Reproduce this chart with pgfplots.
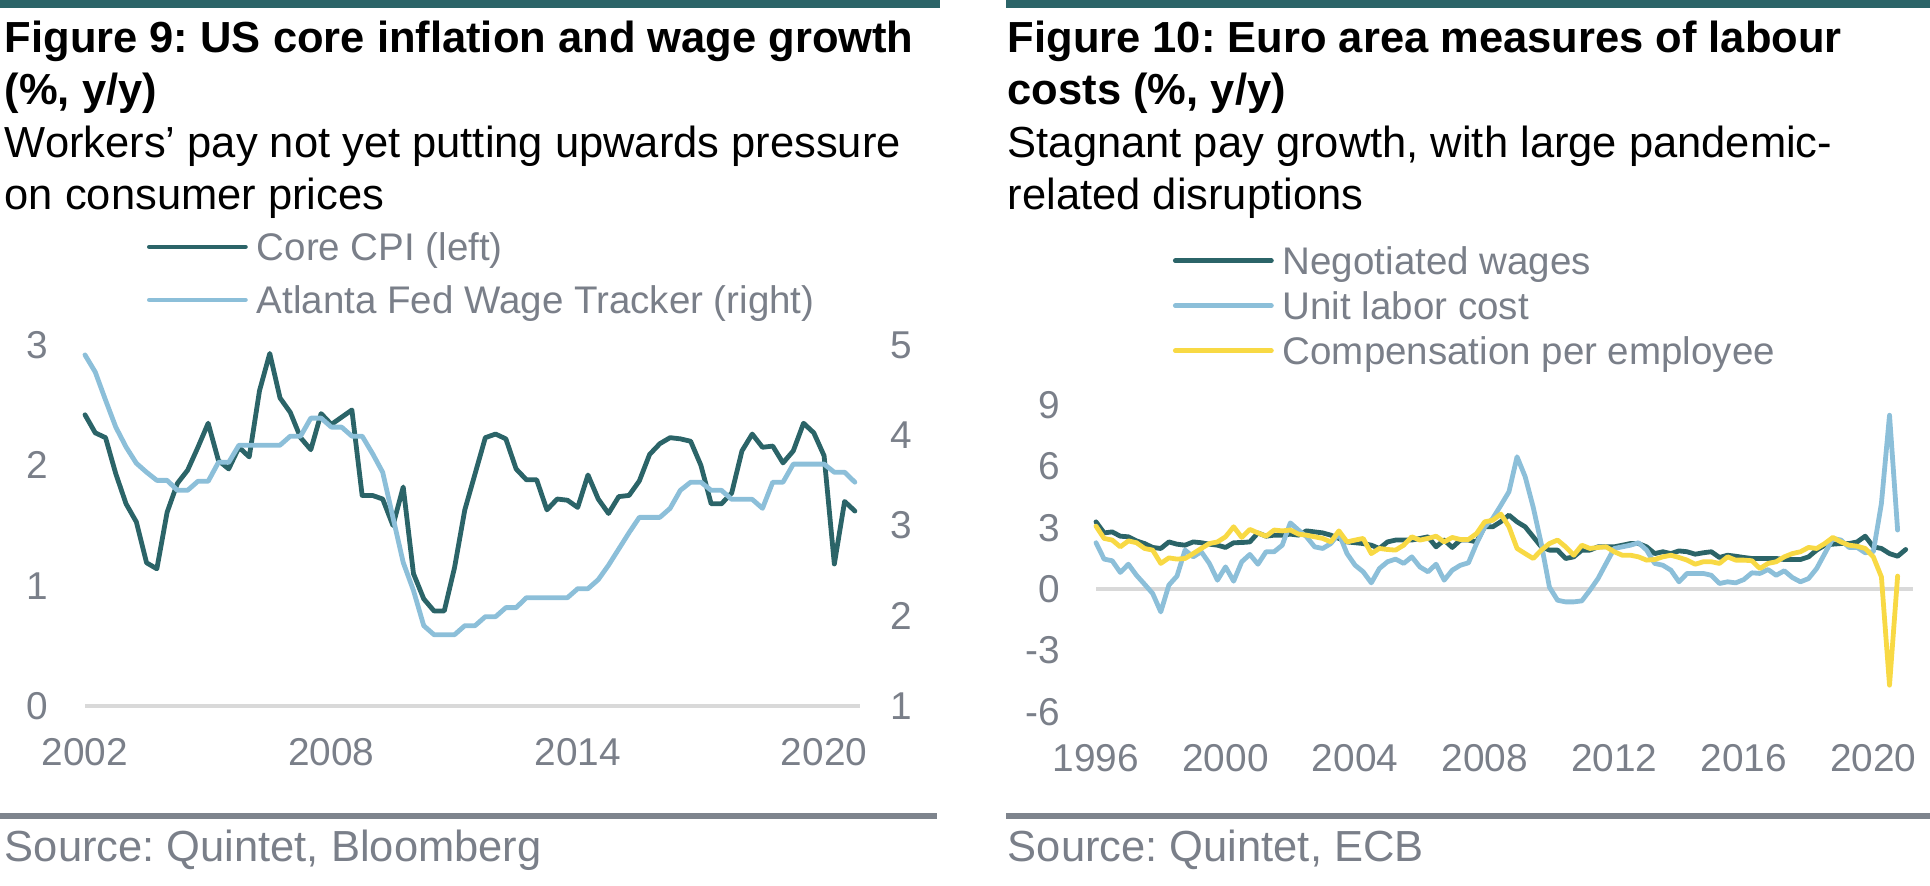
\documentclass[border=0pt]{standalone}
\usepackage{fontspec}
\setmainfont{Liberation Sans}
\usepackage{pgfplots}
\usepackage{pgfplotstable}
\pgfplotsset{compat=1.18}
\definecolor{tealc}{HTML}{2B6468}
\definecolor{bluec}{HTML}{8CBFD9}
\definecolor{yelc}{HTML}{F8D944}
\definecolor{textgray}{HTML}{7A7F89}
\definecolor{bargray}{HTML}{7E848D}
\definecolor{zerogray}{HTML}{D9D9D9}

\pgfplotstableread{
i cpi wage
0 2.42 4.89
1 2.27 4.70
2 2.23 4.39
3 1.93 4.09
4 1.68 3.87
5 1.53 3.69
6 1.19 3.59
7 1.14 3.50
8 1.61 3.50
9 1.85 3.39
10 1.96 3.39
11 2.15 3.49
12 2.35 3.49
13 2.04 3.70
14 1.97 3.70
15 2.15 3.89
16 2.07 3.89
17 2.62 3.89
18 2.93 3.89
19 2.56 3.89
20 2.44 3.99
21 2.23 3.99
22 2.13 4.19
23 2.43 4.19
24 2.34 4.09
25 2.40 4.09
26 2.46 3.99
27 1.75 3.99
28 1.75 3.80
29 1.72 3.59
30 1.50 3.09
31 1.82 2.59
32 1.10 2.28
33 0.89 1.89
34 0.79 1.79
35 0.79 1.79
36 1.15 1.79
37 1.63 1.89
38 1.93 1.89
39 2.23 1.99
40 2.26 1.99
41 2.22 2.09
42 1.97 2.09
43 1.88 2.20
44 1.88 2.20
45 1.63 2.20
46 1.72 2.20
47 1.71 2.20
48 1.65 2.30
49 1.92 2.30
50 1.72 2.40
51 1.60 2.56
52 1.74 2.74
53 1.75 2.92
54 1.87 3.09
55 2.09 3.09
56 2.18 3.09
57 2.23 3.19
58 2.22 3.39
59 2.20 3.48
60 2.00 3.48
61 1.68 3.39
62 1.68 3.39
63 1.77 3.29
64 2.12 3.29
65 2.26 3.29
66 2.15 3.19
67 2.16 3.48
68 2.02 3.48
69 2.12 3.68
70 2.35 3.68
71 2.27 3.68
72 2.08 3.68
73 1.18 3.59
74 1.70 3.59
75 1.62 3.48
}\usdata

\pgfplotstableread{
i nw ulc comp
0 3.29 2.27 3.08
1 2.75 1.47 2.48
2 2.80 1.39 2.40
3 2.59 0.82 2.07
4 2.56 1.22 2.36
5 2.36 0.68 2.27
6 2.23 0.24 1.99
7 2.04 -0.21 1.91
8 1.99 -1.11 1.26
9 2.31 0.20 1.53
10 2.20 0.64 1.47
11 2.15 1.91 1.50
12 2.31 1.58 1.74
13 2.27 1.83 1.99
14 2.20 1.26 2.23
15 2.15 0.44 2.31
16 2.04 1.09 2.56
17 2.27 0.39 3.05
18 2.28 1.34 2.53
19 2.31 1.70 2.92
20 2.75 1.22 2.75
21 2.59 1.83 2.59
22 2.64 1.83 2.89
23 2.64 2.15 2.85
24 2.69 3.24 2.89
25 2.64 2.89 2.69
26 2.85 2.56 2.64
27 2.80 2.07 2.56
28 2.75 1.99 2.48
29 2.64 2.23 2.31
30 2.48 2.72 2.85
31 2.31 1.74 2.31
32 2.27 1.17 2.40
33 2.23 0.85 2.48
34 2.15 0.31 1.74
35 1.99 1.01 1.99
36 2.31 1.34 1.94
37 2.40 1.47 1.91
38 2.40 1.26 2.15
39 2.40 1.58 2.56
40 2.48 1.09 2.40
41 2.56 0.85 2.48
42 2.07 1.22 2.59
43 2.40 0.44 2.31
44 2.04 0.93 2.53
45 2.40 1.17 2.43
46 2.40 1.29 2.43
47 2.31 2.23 2.72
48 3.05 3.05 3.29
49 3.05 3.46 3.37
50 3.30 4.10 3.67
51 3.62 4.76 3.05
52 3.29 6.47 1.99
53 3.05 5.50 1.74
54 2.56 4.00 1.50
55 2.07 2.20 1.91
56 1.91 0.10 2.23
57 1.91 -0.54 2.40
58 1.50 -0.62 2.07
59 1.58 -0.62 1.66
60 1.91 -0.57 2.15
61 1.91 -0.05 1.99
62 2.07 0.52 2.04
63 2.07 1.26 2.07
64 2.07 1.99 1.83
65 2.15 2.07 1.66
66 2.23 2.15 1.66
67 2.23 2.27 1.58
68 2.07 1.91 1.42
69 1.74 1.26 1.45
70 1.83 1.17 1.58
71 1.74 0.93 1.66
72 1.87 0.36 1.55
73 1.83 0.77 1.42
74 1.71 0.77 1.22
75 1.78 0.77 1.34
76 1.83 0.68 1.34
77 1.55 0.28 1.26
78 1.66 0.36 1.58
79 1.61 0.31 1.42
80 1.55 0.47 1.42
81 1.50 0.80 1.39
82 1.50 0.77 1.01
83 1.50 0.96 1.26
84 1.50 0.68 1.34
85 1.45 0.90 1.58
86 1.45 0.57 1.74
87 1.45 0.36 1.83
88 1.58 0.52 2.04
89 1.91 1.01 1.99
90 2.15 1.74 2.23
91 2.20 2.48 2.53
92 2.23 2.40 2.31
93 2.23 2.04 2.15
94 2.31 2.04 2.10
95 2.59 1.78 1.99
96 2.07 1.83 1.58
97 1.99 4.19 0.60
98 1.74 8.50 -4.69
99 1.61 2.89 0.64
100 1.94 nan nan
}\eudata

\pgfplotsset{
  base/.style={
    scale only axis, anchor=south west, clip=false,
    axis line style={draw=none}, major tick length=0pt,
    tick label style={font=\fontsize{9.7pt}{11pt}\selectfont, text=textgray, inner sep=0pt},
    /pgf/number format/assume math mode=true,
    xticklabel style={anchor=center, yshift=-11.5pt},
    legend cell align=left,
    legend image code/.code={\draw[##1, line width=1.2pt, line cap=round] (0pt,0pt) -- (24pt,0pt);},
  },
  ser/.style={line width=1.2pt, line join=round, line cap=round, no markers},
}

\newcommand{\titlefont}{\fontsize{10.875pt}{13pt}\selectfont}

\begin{document}
\frenchspacing
\begin{tikzpicture}
\useasboundingbox (0,0) rectangle (482.5pt,-221.5pt);
% bars
\fill[tealc] (0,0) rectangle (235pt,-2pt);
\fill[tealc] (251.5pt,0) rectangle (482.5pt,-2pt);
\fill[bargray] (0,-203.25pt) rectangle (234.25pt,-204.75pt);
\fill[bargray] (251.5pt,-203.25pt) rectangle (482.5pt,-204.75pt);
% titles left
\node[anchor=base west, inner sep=0pt, font=\titlefont\bfseries] at (1pt,-13.25pt) {Figure 9: US core inflation and wage growth};
\node[anchor=base west, inner sep=0pt, font=\titlefont\bfseries] at (1pt,-26.25pt) {(\%, y/y)};
\node[anchor=base west, inner sep=0pt, font=\titlefont] at (1pt,-39.5pt) {Workers’ pay not yet putting upwards pressure};
\node[anchor=base west, inner sep=0pt, font=\titlefont] at (1pt,-52.5pt) {on consumer prices};
\node[anchor=base west, inner sep=0pt, font=\titlefont, text=textgray] at (1pt,-215.5pt) {Source: Quintet, Bloomberg};
% titles right
\node[anchor=base west, inner sep=0pt, font=\titlefont\bfseries] at (251.75pt,-13.25pt) {Figure 10: Euro area measures of labour};
\node[anchor=base west, inner sep=0pt, font=\titlefont\bfseries] at (251.75pt,-26.25pt) {costs (\%, y/y)};
\node[anchor=base west, inner sep=0pt, font=\titlefont] at (251.75pt,-39.5pt) {Stagnant pay growth, with large pandemic-};
\node[anchor=base west, inner sep=0pt, font=\titlefont] at (251.75pt,-52.5pt) {related disruptions};
\node[anchor=base west, inner sep=0pt, font=\titlefont, text=textgray] at (251.75pt,-215.5pt) {Source: Quintet, ECB};

% left chart, left axis
\begin{axis}[base,
  at={(21.25pt,-176.5pt)}, width=193.75pt, height=90.25pt,
  xmin=0, xmax=75.5, ymin=0, ymax=3,
  xtick={0,24,48,72}, xticklabels={2002,2008,2014,2020},
  ytick={0,1,2,3},
  yticklabel style={anchor=east, xshift=-9pt},
  extra y ticks={0}, extra y tick labels={},
  extra y tick style={grid=major, major grid style={draw=zerogray, line width=0.85pt}},
]
\addplot[ser, tealc] table[x=i, y=cpi] {\usdata};
\end{axis}
% left chart, right axis
\begin{axis}[base,
  at={(21.25pt,-176.5pt)}, width=193.75pt, height=90.25pt,
  xmin=0, xmax=75.5, ymin=1, ymax=5,
  xtick=\empty,
  ytick={1,2,3,4,5}, ytick pos=right, yticklabel pos=right,
  yticklabel style={anchor=west, xshift=7.5pt},
  legend style={draw=none, fill=none, at={(axis description cs:0.080,1.310)}, anchor=north west,
    inner sep=0pt, outer sep=0pt, row sep=6.35pt, column sep=2.25pt,
    font=\fontsize{9.625pt}{11pt}\selectfont, text=textgray,
    nodes={inner sep=0pt, text height=6.9pt, text depth=0pt}},
]
\addlegendimage{ser, tealc}
\addlegendentry{Core CPI (left)}
\addplot[ser, bluec] table[x=i, y=wage] {\usdata};
\addlegendentry{Atlanta Fed Wage Tracker (right)}
\end{axis}

% right chart
\begin{axis}[base,
  at={(274pt,-178pt)}, width=204.25pt, height=76.75pt,
  xmin=0, xmax=100.9, ymin=-6, ymax=9,
  xtick={0,16,32,48,64,80,96}, xticklabels={1996,2000,2004,2008,2012,2016,2020},
  ytick={-6,-3,0,3,6,9},
  yticklabel style={anchor=east, xshift=-8.75pt},
  extra y ticks={0}, extra y tick labels={},
  extra y tick style={grid=major, major grid style={draw=zerogray, line width=0.85pt}},
  legend style={draw=none, fill=none, at={(axis description cs:0.0942,1.5147)}, anchor=north west,
    inner sep=0pt, outer sep=0pt, row sep=4.35pt, column sep=2.25pt,
    font=\fontsize{9.625pt}{11pt}\selectfont, text=textgray,
    nodes={inner sep=0pt, text height=6.9pt, text depth=0pt}},
]
\addplot[ser, tealc] table[x=i, y=nw] {\eudata};
\addlegendentry{Negotiated wages}
\addplot[ser, bluec] table[x=i, y=ulc] {\eudata};
\addlegendentry{Unit labor cost}
\addplot[ser, yelc] table[x=i, y=comp] {\eudata};
\addlegendentry{Compensation per employee}
\end{axis}
\end{tikzpicture}
\end{document}
